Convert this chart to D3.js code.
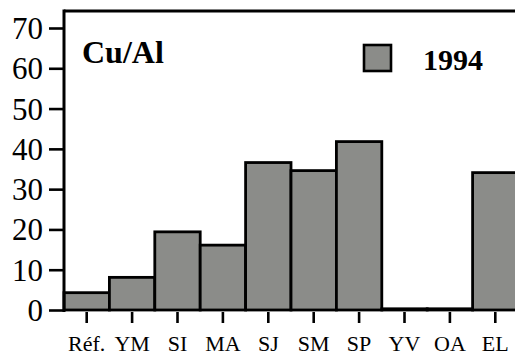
<!DOCTYPE html>
<html>
<head>
<meta charset="utf-8">
<script src="https://cdn.jsdelivr.net/npm/d3@7"></script>
<style>
  html, body { margin: 0; padding: 0; background: #fff; }
  svg { display: block; }
  text { font-family: "Liberation Serif", "Times New Roman", serif; fill: #000; }
</style>
</head>
<body>
<svg id="chart" width="515" height="360"></svg>
<script>
// Cu/Al ratio per site, 1994
const sites = ["Réf.", "YM", "SI", "MA", "SJ", "SM", "SP", "YV", "OA", "EL"];
const cuAl1994 = [4.3, 8.1, 19.4, 16.1, 36.6, 34.6, 41.8, 0.3, 0.3, 34.1];
const yTicks = [0, 10, 20, 30, 40, 50, 60, 70];
const seriesName = "1994";
const panelTitle = "Cu/Al";

const serif = "'Liberation Serif', 'Times New Roman', serif";
const svg = d3.select("#chart");
const plotLeft = 64, plotRight = 518, plotTop = 11, plotBottom = 310;

const x = d3.scaleBand().domain(sites).range([plotLeft, plotRight]).padding(0);
const y = d3.scaleLinear().domain([0, 70]).range([plotBottom, 28]);

// bars
svg.append("g").selectAll("rect")
  .data(sites.map((s, i) => ({ s, v: cuAl1994[i] })))
  .join("rect")
  .attr("x", d => x(d.s))
  .attr("y", d => y(d.v))
  .attr("width", x.bandwidth())
  .attr("height", d => y(0) - y(d.v))
  .attr("fill", "#8b8c89")
  .attr("stroke", "#000")
  .attr("stroke-width", 2.8);

// left axis
const yAxis = svg.append("g")
  .attr("transform", `translate(${plotLeft},0)`)
  .call(d3.axisLeft(y).tickValues(yTicks).tickSize(15).tickPadding(6).tickSizeOuter(0));
yAxis.select(".domain").remove();
yAxis.selectAll(".tick line").attr("stroke", "#000").attr("stroke-width", 2.6);
yAxis.selectAll(".tick text")
  .attr("font-size", 31)
  .attr("dy", "0.34em")
  .style("font-family", serif);

// bottom axis ticks and labels
const xAxis = svg.append("g")
  .attr("transform", `translate(0,${plotBottom + 2})`)
  .call(d3.axisBottom(x).tickSize(11).tickPadding(12.5).tickSizeOuter(0));
xAxis.select(".domain").remove();
xAxis.selectAll(".tick line").attr("stroke", "#000").attr("stroke-width", 2.6);
xAxis.selectAll(".tick text")
  .attr("font-size", 22)
  .style("font-family", serif);

// frame: left spine and top border
svg.append("line")
  .attr("x1", plotLeft).attr("x2", plotLeft)
  .attr("y1", plotTop - 1.5).attr("y2", plotBottom + 2)
  .attr("stroke", "#000").attr("stroke-width", 3);
svg.append("line")
  .attr("x1", plotLeft).attr("x2", 515)
  .attr("y1", plotTop).attr("y2", plotTop)
  .attr("stroke", "#000").attr("stroke-width", 3);

// panel title
svg.append("text")
  .attr("x", 82).attr("y", 63)
  .attr("font-size", 32).attr("font-weight", "bold")
  .style("font-family", serif)
  .text(panelTitle);

// legend
svg.append("rect")
  .attr("x", 364).attr("y", 45)
  .attr("width", 27).attr("height", 26)
  .attr("fill", "#8b8c89").attr("stroke", "#000").attr("stroke-width", 2.6);
svg.append("text")
  .attr("x", 423).attr("y", 69.5)
  .attr("font-size", 30).attr("font-weight", "bold")
  .style("font-family", serif)
  .text(seriesName);
</script>
</body>
</html>
